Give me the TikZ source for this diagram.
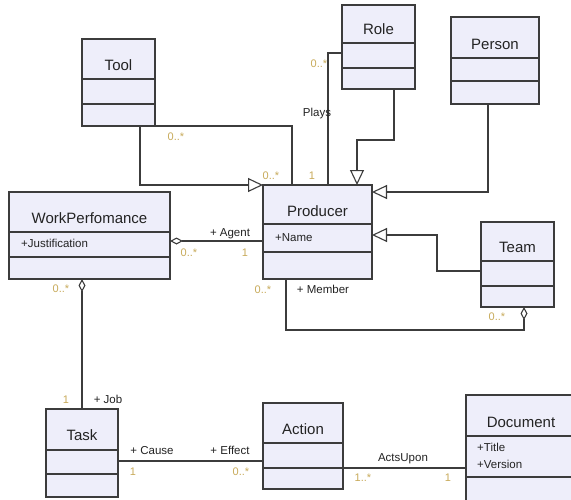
\documentclass[tikz,border=0pt]{standalone}
\usepackage{fontspec}
\setmainfont{Liberation Sans}
\usetikzlibrary{arrows.meta,calc}

\definecolor{boxfill}{RGB}{238,238,250}
\definecolor{edge}{RGB}{60,60,60}
\definecolor{mult}{RGB}{200,170,90}
\definecolor{ink}{RGB}{35,35,35}

\tikzset{
  cls/.style={draw=edge, fill=boxfill, line width=1.1pt, anchor=north west,
              inner sep=0pt, outer sep=0pt},
  divider/.style={draw=edge, line width=1.1pt},
  ctitle/.style={font=\fontsize{15}{18}\selectfont, text=ink, inner sep=0pt,
                 text height=11pt, text depth=0pt},
  attr/.style={font=\fontsize{11.5}{14}\selectfont, text=ink, inner sep=0pt,
               text height=8pt, text depth=0pt, anchor=west},
  endlabel/.style={font=\fontsize{11.5}{14}\selectfont, text=ink, inner sep=0pt,
                   text height=8pt, text depth=0pt},
  multlabel/.style={font=\fontsize{11}{13}\selectfont, text=mult, inner sep=0pt,
                    text height=8pt, text depth=0pt},
  link/.style={draw=edge, line width=1.1pt},
  gen/.style={link, -{Triangle[fill=white, length=15pt, width=14pt]}},
  agg/.style={link, {Diamond[fill=white, length=13pt, width=7pt]}-},
}

% class box: name, x, y, width, height, divider 1, divider 2, title, title offset
\newcommand\umlclass[9]{%
  \node[cls, minimum width=#4pt, minimum height=#5pt] (#1) at (#2,#3) {};
  \draw[divider] ([yshift=-#6pt]#1.north west) -- ([yshift=-#6pt]#1.north east);
  \draw[divider] ([yshift=-#7pt]#1.north west) -- ([yshift=-#7pt]#1.north east);
  \node[ctitle] (#1-title) at ([yshift=-#9pt]#1.north) {#8};
}

\begin{document}
\begin{tikzpicture}[x=1pt, y=-1pt]
  \useasboundingbox (0,0) rectangle (571,499);
  \fill[white] (0,0) rectangle (571,499);
  \clip (0,0) rectangle (571,499);

  % classes
  \umlclass{tool}{82}{39}{73}{87}{40}{65}{Tool}{26}
  \umlclass{role}{342}{5}{73}{84}{38}{63}{Role}{24}
  \umlclass{person}{451}{17}{88}{87}{41}{64}{Person}{27}
  \umlclass{prod}{263}{185}{109}{94}{39}{67}{Producer}{26}
  \umlclass{team}{481}{222}{73}{85}{39}{64}{Team}{25}
  \umlclass{wp}{9}{192}{161}{87}{40}{65}{WorkPerfomance}{26}
  \umlclass{task}{46}{409}{72}{88}{41}{65}{Task}{26}
  \umlclass{action}{263}{403}{80}{86}{40}{65}{Action}{26}
  \umlclass{doc}{466}{395}{110}{140}{41}{82}{Document}{27}

  % attributes
  \node[attr] (prod-name) at (275,237) {+Name};
  \node[attr] (wp-just) at (21,243) {+Justification};
  \node[attr] (doc-title) at (477,447) {+Title};
  \node[attr] (doc-version) at (477,464) {+Version};

  % generalizations
  \draw[gen] ([xshift=58pt]tool.south west) |- (prod.north west);
  \draw[gen] ([xshift=52pt]role.south west) -- ++(0,51) -| ([xshift=94pt]prod.north west);
  \draw[gen] ([xshift=37pt]person.south west) |- ([yshift=-7pt]prod.north east);
  \draw[gen] ([yshift=-49pt]team.north west) -- ++(-44,0) |- ([yshift=-50pt]prod.north east);

  % associations
  \draw[link] (tool.south east) -| ([xshift=29pt]prod.north west);
  \draw[link] ([yshift=-48pt]role.north west) -| ([xshift=65pt]prod.north west);
  \draw[link] ([yshift=-65pt]action.north east) -- ([yshift=-73pt]doc.north west);
  \draw[link] ([yshift=-52pt]task.north east) -- ([yshift=-58pt]action.north west);

  % aggregations
  \draw[agg] ([yshift=-49pt]wp.north east) -- ([yshift=-56pt]prod.north west);
  \draw[agg] (wp.south west -| task.north) -- (task.north);
  \draw[agg] ([xshift=43pt]team.south west) -- ++(0,23) -| ([xshift=23pt]prod.south west);

  % role names
  \node[endlabel] (l-plays) at (317,112) {Plays};
  \node[endlabel] (l-agent) at (230,232) {+ Agent};
  \node[endlabel] (l-member) at (323,289) {+ Member};
  \node[endlabel] (l-job) at (108,399) {+ Job};
  \node[endlabel] (l-cause) at (152,450) {+ Cause};
  \node[endlabel] (l-effect) at (230,450) {+ Effect};
  \node[endlabel] (l-acts) at (403,457) {ActsUpon};

  % multiplicities
  \node[multlabel] (m-tool1) at (176,136) {0..*};
  \node[multlabel] (m-tool2) at (271,175) {0..*};
  \node[multlabel] (m-role) at (319,63) {0..*};
  \node[multlabel] (m-plays) at (312,175) {1};
  \node[multlabel] (m-agent1) at (189,252) {0..*};
  \node[multlabel] (m-agent2) at (245,252) {1};
  \node[multlabel] (m-member1) at (263,289) {0..*};
  \node[multlabel] (m-member2) at (497,316) {0..*};
  \node[multlabel] (m-job1) at (61,288) {0..*};
  \node[multlabel] (m-job2) at (66,399) {1};
  \node[multlabel] (m-cause) at (133,471) {1};
  \node[multlabel] (m-effect) at (241,471) {0..*};
  \node[multlabel] (m-acts1) at (363,477) {1..*};
  \node[multlabel] (m-acts2) at (448,477) {1};
\end{tikzpicture}
\end{document}
